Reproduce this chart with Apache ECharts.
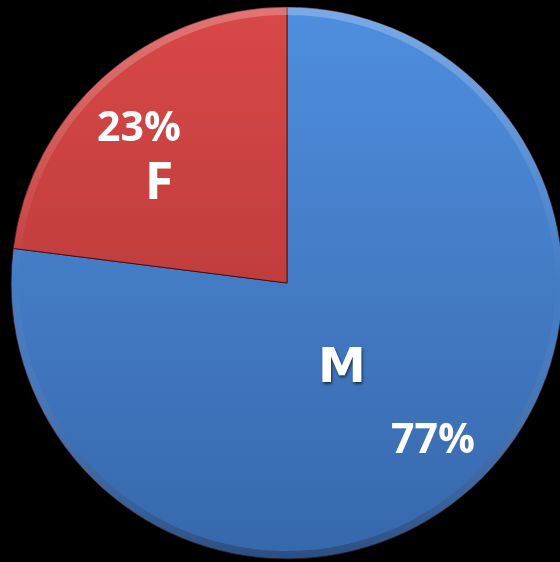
<!DOCTYPE html>
<html>
<head>
<meta charset="utf-8">
<script src="https://cdn.jsdelivr.net/npm/echarts@6/dist/echarts.min.js"></script>
<style>
  html, body { margin: 0; padding: 0; background: #000; }
  #chart { width: 560px; height: 562px; }
</style>
</head>
<body>
<div id="chart"></div>
<script>
// datos
const categorias = ['M', 'F'];
const valores = [77, 23];
const etiquetas = ['77%', '23%'];

// posiciones de las etiquetas (por indice)
const posNombre = [[342, 370], [159, 184]];
const posPct = [[433, 441], [139, 129]];

const colores = [
    ['#4f8fdf', '#3767ab'],   // azul
    ['#d94848', '#a93232']    // rojo
];

// estilo propio para cada nombre
const estiloNombre = [
    { fontFamily: 'DejaVu Sans', fontSize: 48, textShadowColor: 'rgba(0,0,0,0.6)', textShadowBlur: 3, textShadowOffsetX: 1, textShadowOffsetY: 2 },
    { fontFamily: 'Open Sans', fontSize: 52, textShadowColor: 'transparent' }
];

const datos = categorias.map((c, i) => ({
    name: c,
    value: valores[i],
    label: estiloNombre[i],
    itemStyle: {
        color: new echarts.graphic.LinearGradient(0, 0, 0, 562, [
            { offset: 0, color: colores[i][0] },
            { offset: 1, color: colores[i][1] }
        ], true)
    }
}));

const chart = echarts.init(document.getElementById('chart'));

const option = {
    backgroundColor: '#000',
    animation: false,
    series: [
        {
            type: 'pie',
            center: [287, 283],
            radius: [0, 276],
            startAngle: 90,
            clockwise: true,
            itemStyle: {
                borderColor: 'rgba(60,10,10,0.8)',
                borderWidth: 1
            },
            label: {
                show: true,
                position: 'inside',
                formatter: '{b}',
                color: '#fff',
                fontWeight: 'bold'
            },
            labelLayout: (p) => ({
                x: posNombre[p.dataIndex][0],
                y: posNombre[p.dataIndex][1],
                align: 'center',
                verticalAlign: 'middle'
            }),
            emphasis: { disabled: true },
            data: datos
        },
        {
            // borde biselado
            type: 'pie',
            center: [287, 283],
            radius: [268, 276],
            startAngle: 90,
            silent: true,
            label: { show: false },
            itemStyle: {
                color: new echarts.graphic.LinearGradient(0, 0, 0, 562, [
                    { offset: 0, color: 'rgba(255,255,255,0.25)' },
                    { offset: 0.5, color: 'rgba(255,255,255,0)' },
                    { offset: 1, color: 'rgba(0,0,0,0.25)' }
                ], true)
            },
            data: valores.map(v => ({ value: v }))
        },
        {
            // porcentajes
            type: 'pie',
            center: [287, 283],
            radius: [0, 276],
            startAngle: 90,
            silent: true,
            itemStyle: { color: 'transparent' },
            label: {
                show: true,
                position: 'inside',
                formatter: (p) => etiquetas[p.dataIndex],
                color: '#fff',
                fontWeight: 'bold',
                fontSize: 41,
                fontFamily: 'Open Sans'
            },
            labelLayout: (p) => ({
                x: posPct[p.dataIndex][0],
                y: posPct[p.dataIndex][1],
                align: 'center',
                verticalAlign: 'middle'
            }),
            data: valores.map((v, i) => ({ name: categorias[i], value: v }))
        }
    ]
};

option && chart.setOption(option);
</script>
</body>
</html>
